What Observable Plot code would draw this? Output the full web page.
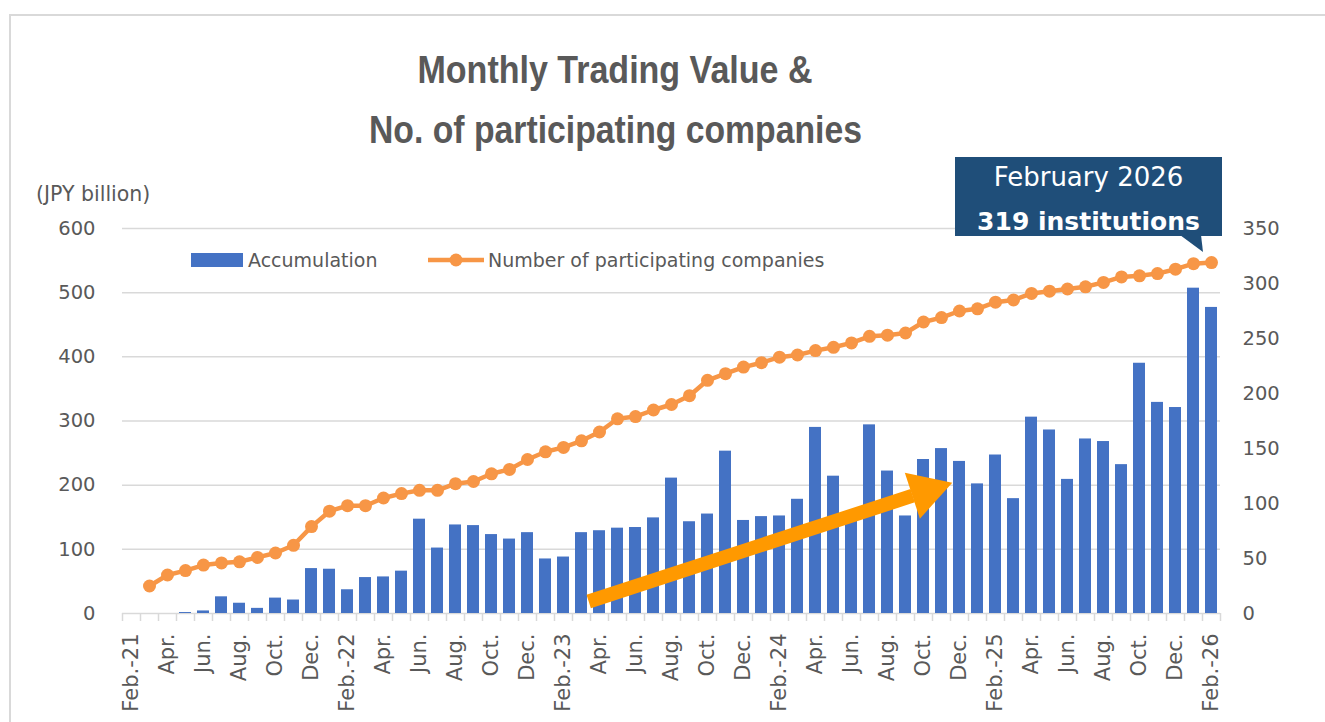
<!DOCTYPE html>
<html><head><meta charset="utf-8">
<script src="https://cdn.jsdelivr.net/npm/d3@7"></script>
<script src="https://cdn.jsdelivr.net/npm/@observablehq/plot@0.6"></script>
<style>
body{margin:0;background:#fff;overflow:hidden}
#wrap{position:relative;width:1325px;height:722px;overflow:hidden;background:#fff}
#frame{position:absolute;left:9px;top:14px;width:1400px;height:800px;border:2px solid #d9d9d9;box-sizing:border-box}
#chart{position:absolute;left:0;top:0}
#overlay{position:absolute;left:0;top:0;pointer-events:none}
</style></head><body>
<div id="wrap">
<div id="frame"></div>
<div id="chart"></div>
<svg id="overlay" width="1325" height="722" font-family="'DejaVu Sans', sans-serif">
  <text x="615" y="83" text-anchor="middle" fill="#595959" font-weight="bold" font-size="38" font-family="'Liberation Sans', sans-serif" textLength="395" lengthAdjust="spacingAndGlyphs">Monthly Trading Value &amp;</text>
  <text x="615.5" y="143" text-anchor="middle" fill="#595959" font-weight="bold" font-size="38" font-family="'Liberation Sans', sans-serif" textLength="493" lengthAdjust="spacingAndGlyphs">No. of participating companies</text>
  <text x="36" y="201" fill="#595959" font-size="20.5">(JPY billion)</text>
  <rect x="191" y="253" width="52" height="14" fill="#4472C4"/>
  <text x="248" y="267" fill="#595959" font-size="19">Accumulation</text>
  <line x1="428" x2="484" y1="260" y2="260" stroke="#F79646" stroke-width="4.5"/>
  <circle cx="456" cy="260" r="6.5" fill="#F79646"/>
  <text x="488" y="267" fill="#595959" font-size="19">Number of participating companies</text>
  <rect x="955" y="157" width="267" height="79" fill="#1F4E79"/>
  <polygon points="1180,235 1201,235 1203,252" fill="#1F4E79"/>
  <text x="1088.5" y="186" text-anchor="middle" fill="#fff" font-size="26">February 2026</text>
  <text x="1088.5" y="230" text-anchor="middle" fill="#fff" font-size="25" font-weight="bold">319 institutions</text>
</svg>
</div>
<script>
// Month labels (Feb-21 .. Feb-26)
const monthLabels = [
  "Feb.-21","Mar.","Apr.","May","Jun.","Jul.","Aug.","Sep.","Oct.","Nov.","Dec.",
  "Jan.-22","Feb.-22","Mar.","Apr.","May","Jun.","Jul.","Aug.","Sep.","Oct.","Nov.","Dec.",
  "Jan.-23","Feb.-23","Mar.","Apr.","May","Jun.","Jul.","Aug.","Sep.","Oct.","Nov.","Dec.",
  "Jan.-24","Feb.-24","Mar.","Apr.","May","Jun.","Jul.","Aug.","Sep.","Oct.","Nov.","Dec.",
  "Jan.-25","Feb.-25","Mar.","Apr.","May","Jun.","Jul.","Aug.","Sep.","Oct.","Nov.","Dec.",
  "Jan.-26","Feb.-26"
];
// Monthly trading value (JPY billion)
const tradingValue = [
  0,0,0,1.5,4,26,16,8,24,21,70,
  69,37,56,57,66,147,102,138,137,123,116,126,
  85,88,126,129,133,134,149,211,143,155,253,145,
  151,152,178,290,214,158,294,222,152,240,257,237,
  202,247,179,306,286,209,272,268,232,390,329,321,
  507,477
];
// Number of participating companies
const companies = [
  null,25,35,39,44,46,47,51,55,62,79,
  93,98,98,105,109,112,112,118,120,127,131,140,
  147,151,157,165,177,179,185,190,198,212,218,224,
  228,233,235,239,242,246,252,253,255,265,269,275,
  277,283,285,291,293,295,297,301,306,307,309,313,
  318,319
];
const leftTicks = [0,100,200,300,400,500,600];
const rightTicks = [0,50,100,150,200,250,300,350];
// Trend arrow annotation (month index, JPY billion)
const trendShaft = [{x: 25.4, y: 18.7}, {x: 43.4, y: 183.6}];
const trendHead = [{x: 44.12, y: 190.4}];

const k = 600 / 350;
const rows = monthLabels.map((m, i) => ({i, label: m, value: tradingValue[i], n: companies[i]}));
const lineRows = rows.filter(d => d.n != null);
const labelIdx = d3.range(0, monthLabels.length, 2);
const boundaries = d3.range(-0.5, monthLabels.length, 1);
const orange = "#F79646", blue = "#4472C4", arrowColor = "#FF9900";

const chart = Plot.plot({
  width: 1325, height: 722,
  marginLeft: 122, marginRight: 105, marginTop: 228, marginBottom: 109,
  style: {fontFamily: "'DejaVu Sans', sans-serif", fontSize: "19px", color: "#595959", background: "transparent"},
  x: {type: "linear", domain: [-0.5, monthLabels.length - 0.5]},
  y: {domain: [0, 600]},
  marks: [
    Plot.ruleY(leftTicks, {stroke: "#d9d9d9", strokeWidth: 1.5}),
    Plot.axisX({ticks: boundaries, tickSize: 8, tickFormat: () => "", stroke: "#d9d9d9", strokeWidth: 1.5}),
    Plot.axisX({ticks: labelIdx, tickSize: 0, tickPadding: 20, tickRotate: -90, fontSize: 21, tickFormat: i => monthLabels[i]}),
    Plot.axisY({anchor: "left", ticks: leftTicks, tickSize: 0, tickPadding: 27, fontSize: 19.5, tickFormat: d => String(d)}),
    Plot.axisY({anchor: "right", ticks: rightTicks.map(v => v * k), tickSize: 0, tickPadding: 22, fontSize: 19.5, tickFormat: d => String(Math.round(d / k))}),
    Plot.rectY(rows, {x1: d => d.i - 0.333, x2: d => d.i + 0.333, y: "value", fill: blue}),
    Plot.line(trendShaft, {x: "x", y: "y", stroke: arrowColor, strokeWidth: 14, strokeLinecap: "butt"}),
    Plot.dot(trendHead, {x: "x", y: "y", symbol: "triangle", r: 18, fill: arrowColor, rotate: 71.9}),
    Plot.line(lineRows, {x: "i", y: d => d.n * k, stroke: orange, strokeWidth: 4.5}),
    Plot.dot(lineRows, {x: "i", y: d => d.n * k, r: 6.5, fill: orange})
  ]
});
document.getElementById("chart").appendChild(chart);
</script>
</body></html>
